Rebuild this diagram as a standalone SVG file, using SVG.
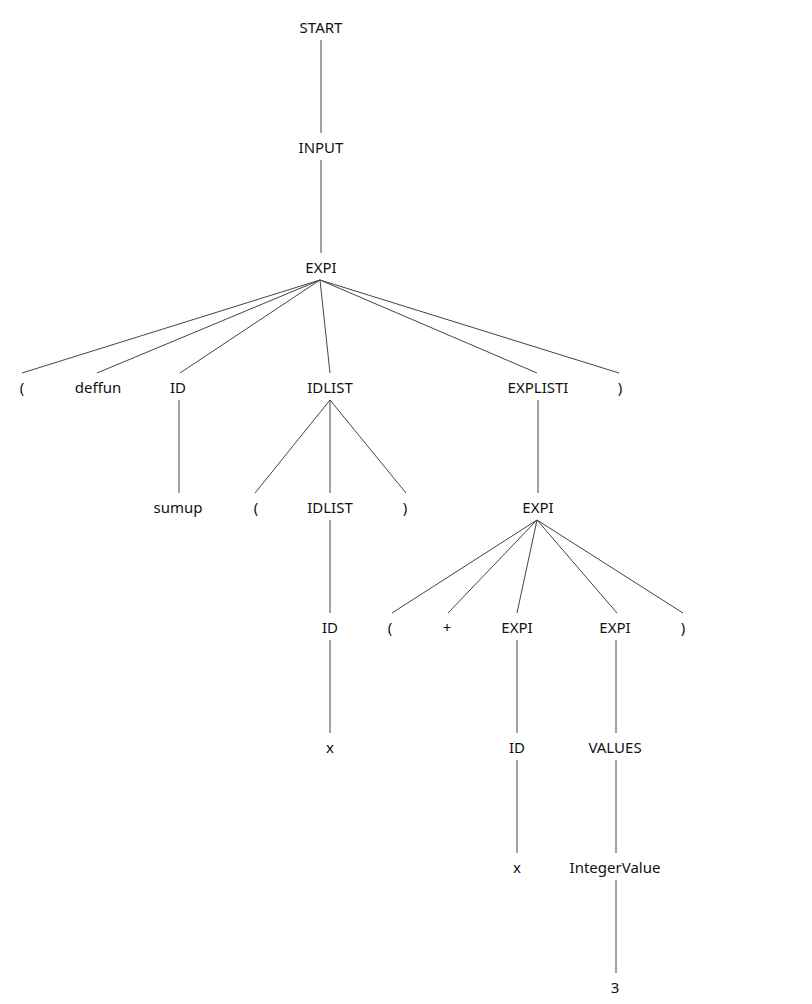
<svg xmlns="http://www.w3.org/2000/svg" width="812" height="1004" viewBox="0 0 812 1004">
<style>
text{font-family:"Noto Sans","Open Sans","DejaVu Sans",sans-serif;font-size:15px;fill:#111;text-anchor:middle}
#edges line{stroke:#444;stroke-width:1}
</style>
<rect width="812" height="1004" fill="#fff"/>
<g id="edges">
<line x1="321" y1="40" x2="321" y2="133"/>
<line x1="321" y1="160" x2="321" y2="253"/>
<line x1="320" y1="280" x2="22" y2="373"/>
<line x1="320" y1="280" x2="97" y2="373"/>
<line x1="320" y1="280" x2="180" y2="373"/>
<line x1="320" y1="280" x2="330" y2="373"/>
<line x1="320" y1="280" x2="537" y2="373"/>
<line x1="320" y1="280" x2="619" y2="373"/>
<line x1="179" y1="400" x2="179" y2="493"/>
<line x1="330" y1="400" x2="255" y2="493"/>
<line x1="330" y1="400" x2="330" y2="493"/>
<line x1="330" y1="400" x2="406" y2="493"/>
<line x1="538" y1="400" x2="538" y2="493"/>
<line x1="330" y1="520" x2="330" y2="613"/>
<line x1="537" y1="520" x2="392" y2="613"/>
<line x1="537" y1="520" x2="448" y2="613"/>
<line x1="537" y1="520" x2="517" y2="613"/>
<line x1="537" y1="520" x2="617" y2="613"/>
<line x1="537" y1="520" x2="683" y2="613"/>
<line x1="330" y1="640" x2="330" y2="733"/>
<line x1="517" y1="640" x2="517" y2="733"/>
<line x1="616" y1="640" x2="616" y2="733"/>
<line x1="517" y1="760" x2="517" y2="853"/>
<line x1="616" y1="760" x2="616" y2="853"/>
<line x1="616" y1="880" x2="616" y2="973"/>
</g>
<g id="n_start"><text x="321" y="33">START</text></g>
<g id="n_input"><text x="321" y="153">INPUT</text></g>
<g id="n_expi1"><text x="321" y="273">EXPI</text></g>
<g id="n_lp1"><text x="22" y="393">(</text></g>
<g id="n_deffun"><text x="98" y="393">deffun</text></g>
<g id="n_id1"><text x="178" y="393">ID</text></g>
<g id="n_idlist1"><text x="330" y="393">IDLIST</text></g>
<g id="n_explisti"><text x="538" y="393">EXPLISTI</text></g>
<g id="n_rp1"><text x="620" y="393">)</text></g>
<g id="n_sumup"><text x="178" y="513">sumup</text></g>
<g id="n_lp2"><text x="256" y="513">(</text></g>
<g id="n_idlist2"><text x="330" y="513">IDLIST</text></g>
<g id="n_rp2"><text x="405" y="513">)</text></g>
<g id="n_expi2"><text x="538" y="513">EXPI</text></g>
<g id="n_id2"><text x="330" y="633">ID</text></g>
<g id="n_lp3"><text x="390" y="633">(</text></g>
<g id="n_plus"><text x="447" y="633">+</text></g>
<g id="n_expi3"><text x="517" y="633">EXPI</text></g>
<g id="n_expi4"><text x="615" y="633">EXPI</text></g>
<g id="n_rp3"><text x="683" y="633">)</text></g>
<g id="n_x1"><text x="330" y="753">x</text></g>
<g id="n_id3"><text x="517" y="753">ID</text></g>
<g id="n_values"><text x="615" y="753">VALUES</text></g>
<g id="n_x2"><text x="517" y="873">x</text></g>
<g id="n_intval"><text x="615" y="873">IntegerValue</text></g>
<g id="n_3"><text x="615" y="993">3</text></g>
</svg>
